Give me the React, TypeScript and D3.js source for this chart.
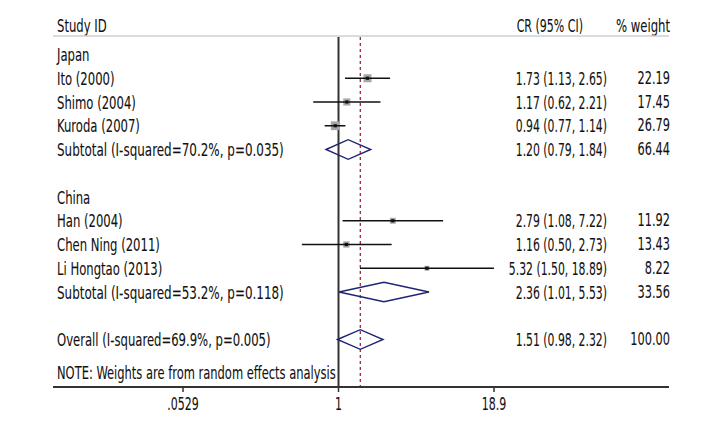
import React from "react";
import * as d3 from "d3";

const rowLabels = [
  "Japan",
  "Ito (2000)",
  "Shimo (2004)",
  "Kuroda (2007)",
  "Subtotal (I-squared=70.2%, p=0.035)",
  "",
  "China",
  "Han (2004)",
  "Chen Ning (2011)",
  "Li Hongtao (2013)",
  "Subtotal (I-squared=53.2%, p=0.118)",
  "",
  "Overall (I-squared=69.9%, p=0.005)",
];
const rowTypes = ["group", "study", "study", "study", "subtotal", "blank", "group", "study", "study", "study", "subtotal", "blank", "overall"];
const estimates = [null, 1.73, 1.17, 0.94, 1.2, null, null, 2.79, 1.16, 5.32, 2.36, null, 1.51];
const lowers = [null, 1.13, 0.62, 0.77, 0.79, null, null, 1.08, 0.5, 1.5, 1.01, null, 0.98];
const uppers = [null, 2.65, 2.21, 1.14, 1.84, null, null, 7.22, 2.73, 18.89, 5.53, null, 2.32];
const weights = [null, 22.19, 17.45, 26.79, 66.44, null, null, 11.92, 13.43, 8.22, 33.56, null, 100.0];
const ciLabels = ["", "1.73 (1.13, 2.65)", "1.17 (0.62, 2.21)", "0.94 (0.77, 1.14)", "1.20 (0.79, 1.84)", "", "", "2.79 (1.08, 7.22)", "1.16 (0.50, 2.73)", "5.32 (1.50, 18.89)", "2.36 (1.01, 5.53)", "", "1.51 (0.98, 2.32)"];
const weightLabels = ["", "22.19", "17.45", "26.79", "66.44", "", "", "11.92", "13.43", "8.22", "33.56", "", "100.00"];
const tickValues = [0.0529, 1, 18.9];
const tickLabels = [".0529", "1", "18.9"];
const overallEstimate = 1.51;
const noteText = "NOTE: Weights are from random effects analysis";

const FONT = "'DejaVu Sans Condensed', 'Liberation Sans Narrow', sans-serif";
const FS = 17.5;

function T({ x, y, anchor = "start", sx = 0.74, children }: { x: number; y: number; anchor?: string; sx?: number; children: any }) {
  return (
    <text transform={`translate(${x},${y}) scale(${sx},1)`} fontSize={FS} fill="#111" stroke="#111" strokeWidth={0.08} textAnchor={anchor as any}>
      {children}
    </text>
  );
}

export default function App() {
  const W = 720, H = 429;
  const x = d3.scaleLog().domain([0.0529, 18.9]).range([183, 494]);
  const y = d3.scaleLinear().domain([0, 12]).range([54.5, 339.5]);
  const left = 57, ciRight = 607, wRight = 670;
  const axisY = 387, headY = 36;
  const textDy = 6.5;
  const navy = "#1f2470";

  return (
    <svg width={W} height={H} style={{ position: "absolute", left: 0, top: 0 }} fontFamily={FONT}>
      <rect width={W} height={H} fill="#fff" />
      <T x={left} y={25 + textDy}>Study ID</T>
      <T x={583} y={25 + textDy} anchor="end" sx={0.7}>CR (95% CI)</T>
      <T x={wRight} y={25 + textDy} anchor="end">% weight</T>
      <line x1={53} x2={669} y1={headY} y2={headY} stroke="#cfcfcf" strokeWidth={1.5} />
      <line x1={x(1)} x2={x(1)} y1={headY + 1} y2={axisY} stroke="#333" strokeWidth={2} />
      <line x1={x(overallEstimate)} x2={x(overallEstimate)} y1={headY + 1} y2={axisY} stroke="#9b2a3a" strokeWidth={1.3} strokeDasharray="3,3" />
      {rowLabels.map((lab, i) => {
        const t = rowTypes[i];
        const yc = y(i);
        const est = estimates[i], lo = lowers[i], hi = uppers[i], w = weights[i];
        const items: any[] = [];
        if (lab) items.push(<T key="l" x={left} y={yc + textDy} sx={t === "subtotal" ? 0.76 : 0.74}>{lab}</T>);
        if (ciLabels[i]) items.push(<T key="c" x={ciRight} y={yc + textDy} anchor="end" sx={0.69}>{ciLabels[i]}</T>);
        if (weightLabels[i]) items.push(<T key="w" x={wRight} y={yc + textDy - 1} anchor="end" sx={0.72}>{weightLabels[i]}</T>);
        if (t === "study" && est != null && lo != null && hi != null && w != null) {
          const s = 1.7 * Math.sqrt(w);
          items.push(<rect key="b" x={x(est) - s / 2} y={yc - s / 2} width={s} height={s} fill="#a6a6a6" />);
          items.push(<line key="ci" x1={x(lo)} x2={x(hi)} y1={yc} y2={yc} stroke="#111" strokeWidth={1.5} />);
          items.push(<rect key="p" x={x(est) - 1.6} y={yc - 1.6} width={3.2} height={3.2} fill="#111" />);
        }
        if ((t === "subtotal" || t === "overall") && est != null && lo != null && hi != null) {
          const h = 9.8;
          const pts = [[x(lo), yc], [x(est), yc - h], [x(hi), yc], [x(est), yc + h]];
          items.push(<polygon key="d" points={pts.map((p) => p.join(",")).join(" ")} fill="none" stroke={navy} strokeWidth={1.4} />);
        }
        return <g key={i}>{items}</g>;
      })}
      <T x={left} y={372 + textDy} sx={0.73}>{noteText}</T>
      <line x1={53} x2={669} y1={axisY} y2={axisY} stroke="#333" strokeWidth={2} />
      {tickValues.map((v, i) => (
        <g key={i}>
          <line x1={x(v)} x2={x(v)} y1={axisY} y2={axisY + 5} stroke="#333" strokeWidth={1.5} />
          <T x={x(v)} y={403 + textDy} anchor="middle" sx={0.7}>{tickLabels[i]}</T>
        </g>
      ))}
    </svg>
  );
}
